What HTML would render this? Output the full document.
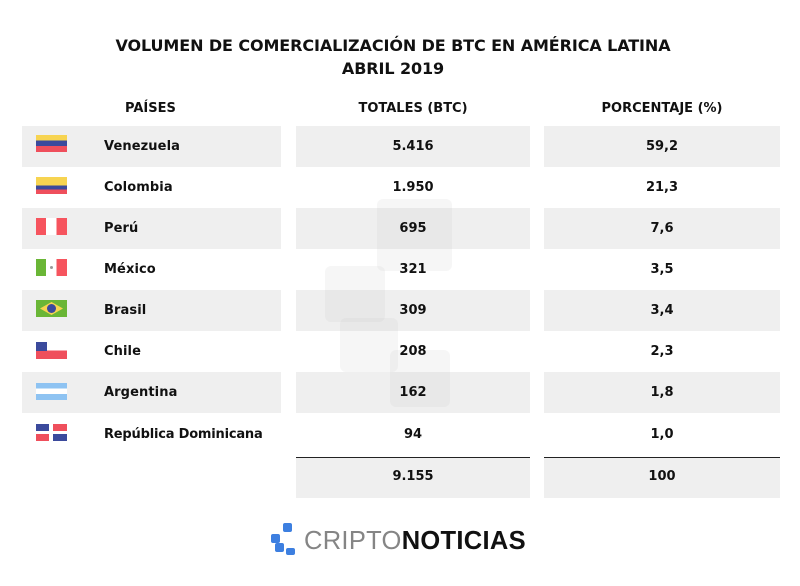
<!DOCTYPE html>
<html><head><meta charset="utf-8"><style>
body{margin:0;width:800px;height:586px;background:#fff;position:relative;overflow:hidden;font-family:"DejaVu Sans","Liberation Sans",sans-serif;color:#111}
.a{position:absolute}
.t{position:absolute;left:0;width:800px;text-align:center;font-weight:bold;font-size:16px;letter-spacing:-0.1px}
.h{position:absolute;font-weight:bold;font-size:13px;text-align:center}
.sh{position:absolute;background:#efefef}
.n{position:absolute;font-weight:bold;font-size:13px;left:104px;letter-spacing:0.1px}
.v{position:absolute;font-weight:bold;font-size:13px;text-align:center}
.f{position:absolute;left:36px;width:31px;height:17px}
.wm{position:absolute;background:rgba(200,200,200,0.16);border-radius:6px}
</style></head><body>
<div class="t" style="top:36px;left:-7px">VOLUMEN DE COMERCIALIZACIÓN DE BTC EN AMÉRICA LATINA</div>
<div class="t" style="top:59px;left:-7px">ABRIL 2019</div>
<div class="h" style="left:125px;top:101px">PAÍSES</div>
<div class="h" style="left:296px;width:234px;top:101px">TOTALES (BTC)</div>
<div class="h" style="left:544px;width:236px;top:101px">PORCENTAJE (%)</div>

<div class="sh" style="left:22px;width:259px;top:126px;height:41px"></div>
<div class="sh" style="left:296px;width:234px;top:126px;height:41px"></div>
<div class="sh" style="left:544px;width:236px;top:126px;height:41px"></div>
<div class="sh" style="left:22px;width:259px;top:208px;height:41px"></div>
<div class="sh" style="left:296px;width:234px;top:208px;height:41px"></div>
<div class="sh" style="left:544px;width:236px;top:208px;height:41px"></div>
<div class="sh" style="left:22px;width:259px;top:290px;height:41px"></div>
<div class="sh" style="left:296px;width:234px;top:290px;height:41px"></div>
<div class="sh" style="left:544px;width:236px;top:290px;height:41px"></div>
<div class="sh" style="left:22px;width:259px;top:372px;height:41px"></div>
<div class="sh" style="left:296px;width:234px;top:372px;height:41px"></div>
<div class="sh" style="left:544px;width:236px;top:372px;height:41px"></div>
<div class="sh" style="left:296px;width:234px;top:457px;height:40px;border-top:1.5px solid #222"></div>
<div class="sh" style="left:544px;width:236px;top:457px;height:40px;border-top:1.5px solid #222"></div>

<div class="wm" style="left:377px;top:199px;width:75px;height:72px"></div>
<div class="wm" style="left:325px;top:266px;width:60px;height:56px"></div>
<div class="wm" style="left:340px;top:318px;width:58px;height:54px"></div>
<div class="wm" style="left:390px;top:350px;width:60px;height:57px"></div>

<div class="f" style="top:135px;background:linear-gradient(#f7d451 0 33%,#3b4a9c 33% 66%,#ef4f5c 66%)"></div>
<div class="f" style="top:177px;background:linear-gradient(#f7d451 0 50%,#3b4a9c 50% 75%,#ef4f5c 75%)"></div>
<div class="f" style="top:218px;background:linear-gradient(90deg,#f6545e 0 33%,#fff 33% 66%,#f6545e 66%)"></div>
<div class="f" style="top:259px;background:linear-gradient(90deg,#6ab636 0 33%,#fff 33% 66%,#f6545e 66%)"><div class="a" style="left:14px;top:7px;width:3px;height:3px;border-radius:50%;background:#999"></div></div>
<div class="f" style="top:300px;background:#6ab636"><div class="a" style="left:4px;top:2px;width:23px;height:13px;background:#f7d451;clip-path:polygon(50% 0,100% 50%,50% 100%,0 50%)"></div><div class="a" style="left:11px;top:4px;width:9px;height:9px;border-radius:50%;background:#3b4a9c"></div></div>
<div class="f" style="top:342px;background:linear-gradient(#fff 0 50%,#ef4f5c 50%)"><div class="a" style="left:0;top:0;width:11px;height:9px;background:#3b4a9c"></div></div>
<div class="f" style="top:383px;background:linear-gradient(#8ec3f2 0 33%,#fff 33% 66%,#8ec3f2 66%)"></div>
<div class="f" style="top:424px;background:linear-gradient(90deg,#3b4a9c 0 45%,#ef4f5c 45%)"><div class="a" style="left:0;top:9px;width:31px;height:8px;background:linear-gradient(90deg,#ef4f5c 0 45%,#3b4a9c 45%)"></div><div class="a" style="left:13px;top:0;width:4px;height:17px;background:#fff"></div><div class="a" style="left:0;top:7px;width:31px;height:3px;background:#fff"></div></div>

<div class="n" style="top:139px">Venezuela</div>
<div class="n" style="top:180px">Colombia</div>
<div class="n" style="top:221px">Perú</div>
<div class="n" style="top:262px">México</div>
<div class="n" style="top:303px">Brasil</div>
<div class="n" style="top:344px">Chile</div>
<div class="n" style="top:385px">Argentina</div>
<div class="n" style="top:427px;letter-spacing:-0.2px">República Dominicana</div>

<div class="v" style="left:296px;width:234px;top:139px">5.416</div>
<div class="v" style="left:296px;width:234px;top:180px">1.950</div>
<div class="v" style="left:296px;width:234px;top:221px">695</div>
<div class="v" style="left:296px;width:234px;top:262px">321</div>
<div class="v" style="left:296px;width:234px;top:303px">309</div>
<div class="v" style="left:296px;width:234px;top:344px">208</div>
<div class="v" style="left:296px;width:234px;top:385px">162</div>
<div class="v" style="left:296px;width:234px;top:427px">94</div>
<div class="v" style="left:296px;width:234px;top:469px">9.155</div>
<div class="v" style="left:544px;width:236px;top:139px">59,2</div>
<div class="v" style="left:544px;width:236px;top:180px">21,3</div>
<div class="v" style="left:544px;width:236px;top:221px">7,6</div>
<div class="v" style="left:544px;width:236px;top:262px">3,5</div>
<div class="v" style="left:544px;width:236px;top:303px">3,4</div>
<div class="v" style="left:544px;width:236px;top:344px">2,3</div>
<div class="v" style="left:544px;width:236px;top:385px">1,8</div>
<div class="v" style="left:544px;width:236px;top:427px">1,0</div>
<div class="v" style="left:544px;width:236px;top:469px">100</div>

<div class="a" style="left:283px;top:523px;width:9px;height:9px;background:#3d7fe0;border-radius:2px"></div>
<div class="a" style="left:271px;top:534px;width:9px;height:9px;background:#3d7fe0;border-radius:2px"></div>
<div class="a" style="left:275px;top:543px;width:9px;height:9px;background:#3d7fe0;border-radius:2px"></div>
<div class="a" style="left:286px;top:548px;width:9px;height:7px;background:#3d7fe0;border-radius:2px"></div>
<div class="a" style="left:304px;top:526px;font-family:'Liberation Sans',sans-serif;font-size:25.5px;letter-spacing:0.3px;line-height:30px"><span style="color:#858585">CRIPTO</span><span style="color:#111;font-weight:bold">NOTICIAS</span></div>
</body></html>
